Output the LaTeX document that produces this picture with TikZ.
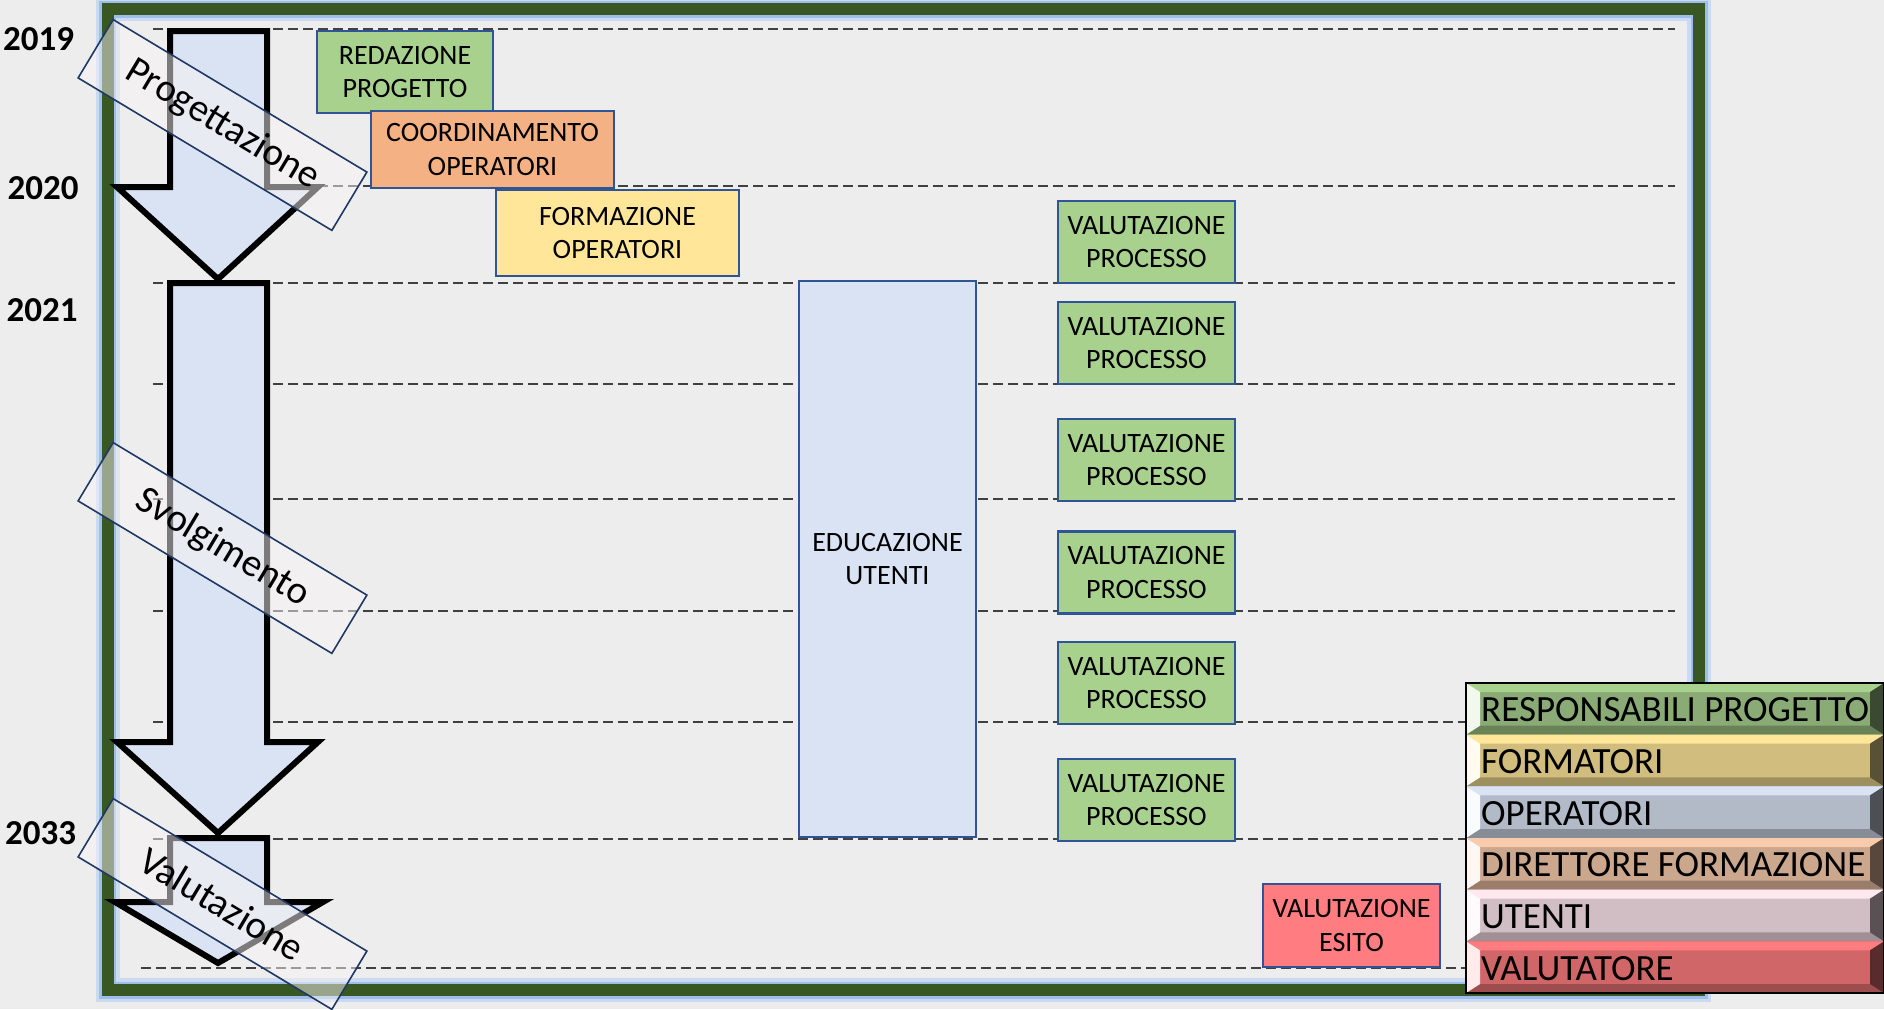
\documentclass[tikz,border=0pt]{standalone}
\usepackage{fontspec}
\setmainfont{Carlito}
\definecolor{bgc}{HTML}{EDEDED}
\definecolor{framegreen}{HTML}{385723}
\definecolor{glowA}{HTML}{C9DAF2}
\definecolor{glowB}{HTML}{9DBDEB}
\definecolor{gridc}{HTML}{404040}
\definecolor{boxblue}{HTML}{2F5597}
\definecolor{fgreen}{HTML}{A9D18E}
\definecolor{forange}{HTML}{F4B183}
\definecolor{fyellow}{HTML}{FFE699}
\definecolor{fblue}{HTML}{DAE3F3}
\definecolor{fred}{HTML}{FF7C80}
\definecolor{arrowfill}{HTML}{DAE3F3}
\definecolor{bannerfill}{HTML}{F8F4F4}
\definecolor{bannerline}{HTML}{1F3864}
\definecolor{lgA}{HTML}{A9D18E}
\definecolor{lgB}{HTML}{FFE699}
\definecolor{lgC}{HTML}{DAE3F3}
\definecolor{lgD}{HTML}{F8CBAD}
\definecolor{lgE}{HTML}{FFE8F0}
\definecolor{lgF}{HTML}{FF7C80}
\newcommand\bxfont{\fontsize{28}{33.5}\selectfont}
\newcommand\yrfont{\fontsize{35}{40}\selectfont\bfseries}
\newcommand\bnfont{\fontsize{39}{44}\selectfont}
\newcommand\lgfont{\fontsize{37}{42}\selectfont}
\begin{document}
\begin{tikzpicture}[x=1pt,y=-1pt,
  box/.style={draw=boxblue, line width=2.5pt, align=center, inner sep=0pt, font=\bxfont, text=black},
  year/.style={font=\yrfont, text=black, inner sep=0pt},
  banner/.style={draw=bannerline, line width=1.6pt, fill=bannerfill, fill opacity=0.5, draw opacity=1, text opacity=1, rotate=-31, minimum width=296pt, minimum height=68pt, inner sep=0pt, font=\bnfont, text=black},
  bigarrow/.style={draw=black, line width=6pt, fill=arrowfill, line join=miter},
  gridline/.style={draw=gridc, line width=1.3pt, dash pattern=on 10pt off 5pt},
]
\useasboundingbox (0,0) rectangle (1884,1009);
\fill[bgc] (0,0) rectangle (1884,1009);
% frame
\draw[glowA, line width=24pt] (107.5,9) rectangle (1699,990);
\draw[glowB, line width=17pt] (107.5,9) rectangle (1699,990);
\draw[framegreen, line width=12pt] (107.5,9) rectangle (1699,990);
% grid lines
\foreach \yy in {29,186,283,384,499,611,722,839}{
  \draw[gridline] (153,\yy) -- (1675,\yy);
}
\draw[gridline] (141,968) -- (1675,968);
% years
\node[year] (y2019) at (38.5,39) {2019};
\node[year] (y2020) at (43,188) {2020};
\node[year] (y2021) at (42,310) {2021};
\node[year] (y2033) at (40.5,833) {2033};
% boxes
\node[box, fill=fgreen, minimum width=176pt, minimum height=82pt] (redaz) at (405,72) {REDAZIONE\\PROGETTO};
\node[box, fill=forange, minimum width=243pt, minimum height=77pt] (coord) at (492.5,149.5) {COORDINAMENTO\\OPERATORI};
\node[box, fill=fyellow, minimum width=243pt, minimum height=86pt] (form) at (617.5,233) {FORMAZIONE\\OPERATORI};
\node[box, fill=fblue, minimum width=177pt, minimum height=556pt] (educ) at (887.5,559) {EDUCAZIONE\\UTENTI};
\foreach \n/\cy in {1/242,2/343,3/460,4/572.5,5/683,6/800}{
  \node[box, fill=fgreen, minimum width=177pt, minimum height=82pt] (val\n) at (1146.5,\cy) {VALUTAZIONE\\PROCESSO};
}
\node[box, fill=fred, minimum width=177pt, minimum height=83pt] (esito) at (1351.5,925.5) {VALUTAZIONE\\ESITO};
% arrows
\draw[bigarrow] (170,31) -- (267,31) -- (267,187) -- (318,187) -- (218,279) -- (117,187) -- (170,187) -- cycle;
\draw[bigarrow] (170,283) -- (267,283) -- (267,742) -- (318,742) -- (218,833) -- (117,742) -- (170,742) -- cycle;
\draw[bigarrow] (170,838) -- (267,838) -- (267,902) -- (323,902) -- (218,963) -- (115,902) -- (170,902) -- cycle;
% banners
\node[banner] (prog) at (222.5,125) {Progettazione};
\node[banner] (svol) at (222.5,548) {Svolgimento};
\node[banner] (valu) at (222.5,904) {Valutazione};
% legend
\foreach \i/\cl/\tx in {0/lgA/{RESPONSABILI PROGETTO},1/lgB/FORMATORI,2/lgC/OPERATORI,3/lgD/{DIRETTORE FORMAZIONE},4/lgE/UTENTI,5/lgF/VALUTATORE}{
  \pgfmathsetmacro\yA{683+51.667*\i}
  \pgfmathsetmacro\yB{\yA+51.667}
  \fill[\cl!82!black] (1466,\yA) rectangle (1884,\yB);
  \fill[\cl] (1466,\yA) -- (1884,\yA) -- (1870,{\yA+9}) -- (1480,{\yA+9}) -- cycle;
  \fill[\cl!62!black] (1466,\yB) -- (1884,\yB) -- (1870,{\yB-9}) -- (1480,{\yB-9}) -- cycle;
  \fill[white!85!\cl] (1466,\yA) -- (1480,{\yA+9}) -- (1480,{\yB-9}) -- (1466,\yB) -- cycle;
  \fill[\cl!35!black] (1884,\yA) -- (1870,{\yA+9}) -- (1870,{\yB-9}) -- (1884,\yB) -- cycle;
  \node[anchor=west, font=\lgfont, inner sep=0pt, text=black] (leg\i) at (1481,{(\yA+\yB)/2+1}) {\tx};
}
\draw[black, line width=2.5pt] (1466,683) rectangle (1884,993);
\end{tikzpicture}
\end{document}
